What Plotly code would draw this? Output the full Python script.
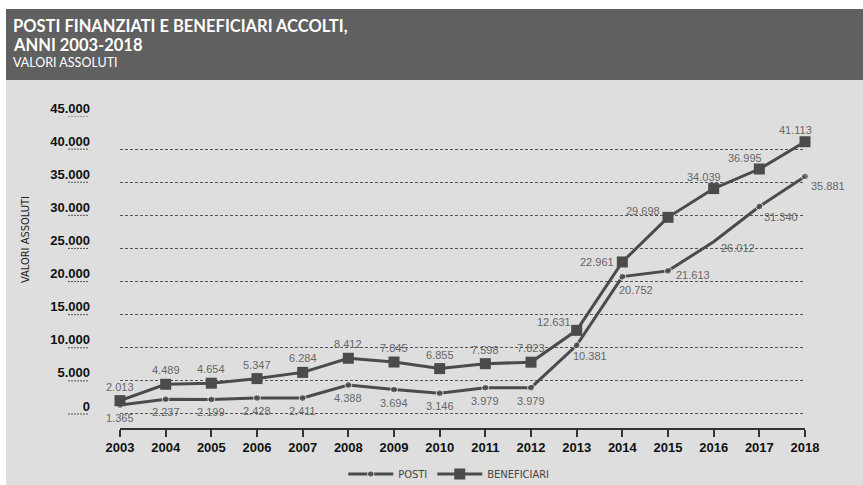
import plotly.graph_objects as go

# ---- data ----
years = list(range(2003, 2019))
posti = [1365, 2237, 2199, 2428, 2411, 4388, 3694, 3146, 3979, 3979,
         10381, 20752, 21613, 26012, 31340, 35881]
beneficiari = [2013, 4489, 4654, 5347, 6284, 8412, 7845, 6855, 7598, 7823,
               12631, 22961, 29698, 34039, 36995, 41113]
y_ticks = [0, 5000, 10000, 15000, 20000, 25000, 30000, 35000, 40000, 45000]

# ---- styles / label offsets (pixels) ----
posti_off = [(0, -13)] * 10 + [(13, -11), (14, -13), (25, -4), (24, -6), (22, -11), (23, -10)]
benef_off = [(0, 14)] * 10 + [(-23, 8), (-25, 0), (-25, 6), (-10, 12), (-14, 11), (-10, 12)]
posti_msize = [7] * 13 + [0, 7, 7]

W, H = 863, 485
L, R, T, B = 120, 58, 116, 57
pw, ph = W - L - R, H - T - B


def px(x):
    return (x - L) / pw


def py(y):
    return (H - B - y) / ph


def fmt(v):
    return f"{v:,}".replace(",", ".")


LINE = "#4b4b4b"
LIGHT = "#dedede"
DARK = "#606060"
SANS = "Liberation Sans, Arial, Helvetica, sans-serif"

fig = go.Figure()
fig.add_trace(go.Scatter(
    x=years, y=posti, name="POSTI", mode="lines+markers",
    line=dict(color=LINE, width=3),
    marker=dict(symbol="circle", size=posti_msize, color=LINE),
    cliponaxis=False,
))
fig.add_trace(go.Scatter(
    x=years, y=beneficiari, name="BENEFICIARI", mode="lines+markers",
    line=dict(color=LINE, width=3),
    marker=dict(symbol="square", size=11, color=LINE),
    cliponaxis=False,
))

ann = []
for x, v, (dx, dy) in zip(years, posti, posti_off):
    ann.append(dict(x=x, y=v, xref="x", yref="y", text=fmt(v), showarrow=False,
                    xshift=dx, yshift=dy,
                    font=dict(family=SANS, size=11, color="#666666")))
for x, v, (dx, dy) in zip(years, beneficiari, benef_off):
    ann.append(dict(x=x, y=v, xref="x", yref="y", text=fmt(v), showarrow=False,
                    xshift=dx, yshift=dy,
                    font=dict(family=SANS, size=11, color="#666666")))

# titles
TF = "Lato, Liberation Sans, sans-serif"
ann.append(dict(x=px(11), y=py(26), xref="paper", yref="paper", xanchor="left", yanchor="middle",
                text="<b>POSTI FINANZIATI E BENEFICIARI ACCOLTI,</b>", showarrow=False,
                font=dict(family=TF, size=16.5, color="white")))
ann.append(dict(x=px(11), y=py(45), xref="paper", yref="paper", xanchor="left", yanchor="middle",
                text="<b>ANNI 2003-2018</b>", showarrow=False,
                font=dict(family=TF, size=16.5, color="white")))
ann.append(dict(x=px(11), y=py(63), xref="paper", yref="paper", xanchor="left", yanchor="middle",
                text="VALORI ASSOLUTI", showarrow=False,
                font=dict(family=TF, size=12.5, color="white")))
# y axis title
NARROW = "Liberation Sans Narrow, DejaVu Sans Condensed, sans-serif"
ann.append(dict(x=px(25), y=py(240), xref="paper", yref="paper", xanchor="center", yanchor="middle",
                text="VALORI ASSOLUTI", textangle=-90, showarrow=False,
                font=dict(family=NARROW, size=11, color="#222222")))

shapes = [
    dict(type="rect", xref="paper", yref="paper", x0=px(0), x1=px(W), y0=py(H), y1=py(0),
         fillcolor="white", line_width=0, layer="below"),
    dict(type="rect", xref="paper", yref="paper", x0=px(6), x1=px(W), y0=py(H), y1=py(9),
         fillcolor=LIGHT, line_width=0, layer="below"),
    dict(type="rect", xref="paper", yref="paper", x0=px(6), x1=px(W), y0=py(80), y1=py(9),
         fillcolor=DARK, line_width=0, layer="below"),
]
for v in y_ticks:
    shapes.append(dict(type="line", xref="paper", yref="y", x0=px(68), x1=px(88), y0=v, y1=v,
                       line=dict(color="#555555", width=1, dash="2px,1px")))

fig.update_layout(
    width=W, height=H, autosize=False,
    margin=dict(l=L, r=R, t=T, b=B, autoexpand=False),
    paper_bgcolor="white", plot_bgcolor=LIGHT,
    showlegend=True,
    legend=dict(orientation="h", xref="container", yref="container", x=0.52, y=1 - 474 / H,
                xanchor="center", yanchor="middle", bgcolor="rgba(0,0,0,0)",
                font=dict(family=NARROW, size=11, color="#444444"), itemwidth=45),
    xaxis=dict(range=[2003, 2018], tickvals=years, ticktext=[str(y) for y in years],
               showgrid=False, zeroline=False, showline=True, linecolor="#333333", linewidth=1.5,
               ticks="outside", ticklen=7, tickwidth=1.5, tickcolor="#333333",
               tickfont=dict(family=SANS, size=13, color="#111111", weight="bold")),
    yaxis=dict(range=[-2115, 45000], tickvals=y_ticks, ticktext=[fmt(v) for v in y_ticks],
               showgrid=True, gridcolor="#555555", gridwidth=0.8, griddash="3px,2px",
               zeroline=False, showline=False, ticks="",
               ticklabelshift=-8, ticklabelstandoff=29,
               tickfont=dict(family=SANS, size=13, color="#111111", weight="bold")),
    annotations=ann,
    shapes=shapes,
)

fig.write_html("out.html")
